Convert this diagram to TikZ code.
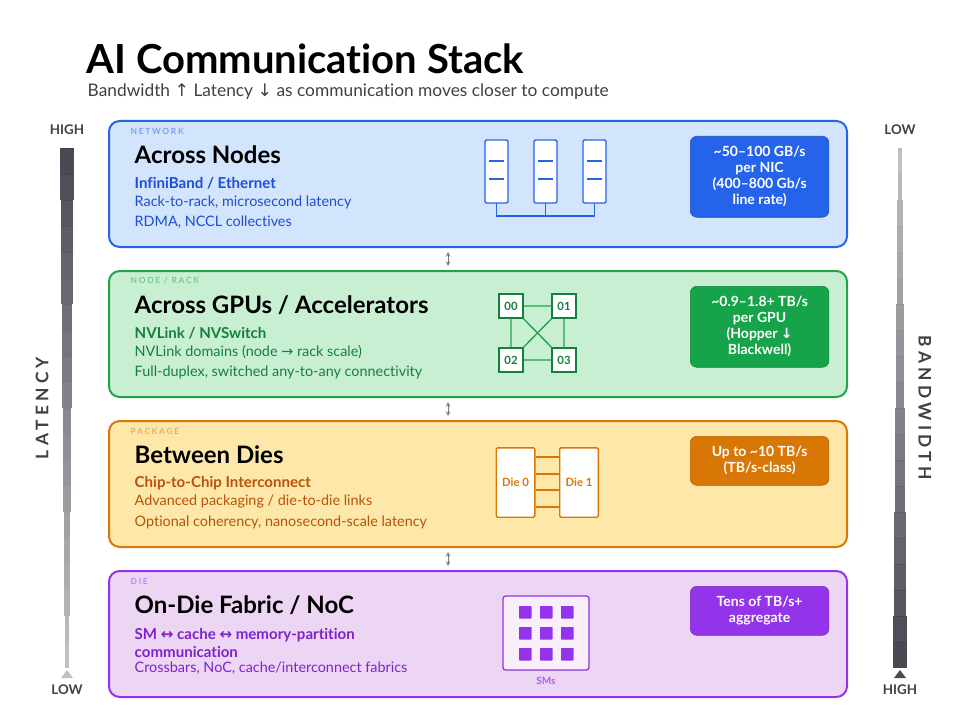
\documentclass[tikz,border=0pt]{standalone}
\usepackage{fontspec}
\setmainfont{Lato}[Ligatures=NoCommon]
\newfontfamily\symfont{DejaVu Sans}
\usetikzlibrary{positioning}
\definecolor{netB}{HTML}{2563EB}\definecolor{netF}{HTML}{D3E4FD}\definecolor{netT}{HTML}{1D4ED8}
\definecolor{gpuB}{HTML}{22A34A}\definecolor{gpuF}{HTML}{C8EFD2}\definecolor{gpuT}{HTML}{15803D}\definecolor{gpuD}{HTML}{16A34A}
\definecolor{pkgB}{HTML}{D97706}\definecolor{pkgF}{HTML}{FDE8A9}\definecolor{pkgT}{HTML}{B9520C}
\definecolor{dieB}{HTML}{9333EA}\definecolor{dieF}{HTML}{EDD6F4}\definecolor{dieT}{HTML}{7E22CE}
\definecolor{ink}{HTML}{3F3F46}
\definecolor{barD}{HTML}{4A4A54}
\newcommand{\sy}[1]{{\symfont #1}}
\tikzset{
  layer/.style={draw=#1B, fill=#1F, line width=1.5pt, rounded corners=8pt, minimum width=553.5pt, minimum height=94.5pt, anchor=north west},
  tag/.style={font=\fontsize{6.3}{7}\selectfont\bfseries, anchor=west},
  head/.style={font=\fontsize{18}{20}\selectfont\bfseries, anchor=west},
  sub/.style={font=\fontsize{11.3}{13}\selectfont\bfseries, anchor=west},
  line/.style={font=\fontsize{10.8}{12}\selectfont, anchor=west},
  badge/.style={fill=#1, draw=#1!80!black, rounded corners=5pt, text=white, font=\fontsize{10.5}{12}\selectfont\bfseries, align=center, minimum width=104pt, anchor=north west},
  chip/.style={draw=gpuT, fill=white, line width=1pt, minimum size=18pt, inner sep=0pt, font=\fontsize{8.5}{9}\selectfont\bfseries, text=gpuT},
  link/.style={<->, >=stealth, ink!70, line width=0.6pt},
  bartext/.style={font=\fontsize{10}{12}\selectfont\bfseries, text=ink}
}
\begin{document}
\begin{tikzpicture}[x=0.75pt, y=-0.75pt]
\useasboundingbox (0,0) rectangle (966,720);
% title
\node[anchor=west, font=\fontsize{30}{34}\selectfont\bfseries] (title) at (82,59) {AI Communication Stack};
\node[anchor=west, font=\fontsize{13}{15}\selectfont, text=ink] (subtitle) at (83,92) {Bandwidth \sy{↑} Latency \sy{↓} as communication moves closer to compute};

% layers
\node[layer=net] (net) at (108,120) {};
\node[layer=gpu] (gpu) at (108,270) {};
\node[layer=pkg] (pkg) at (108,420) {};
\node[layer=die] (die) at (108,570) {};
\foreach \a/\b in {net/gpu, gpu/pkg, pkg/die}
  \draw[link] ([xshift=-22.5pt,yshift=-3pt]\a.south) -- ([xshift=-22.5pt,yshift=3pt]\b.north);

% text of the layers
\foreach \l/\y/\t/\h/\s/\p/\q in {
  net/0/NETWORK/Across Nodes/{InfiniBand / Ethernet}/{Rack-to-rack, microsecond latency}/{RDMA, NCCL collectives},
  gpu/150/{NODE / RACK}/{Across GPUs / Accelerators}/{NVLink / NVSwitch}/{NVLink domains (node \sy{→} rack scale)}/{Full-duplex, switched any-to-any connectivity},
  pkg/300/PACKAGE/Between Dies/Chip-to-Chip Interconnect/{Advanced packaging / die-to-die links}/{Optional coherency, nanosecond-scale latency}}{
  \node[tag, text=\l B!60] at (126,131+\y) {\addfontfeature{LetterSpace=20}\t};
  \node[head] at (130,155+\y) {\h};
  \node[sub, text=\l T] at (130,183+\y) {\s};
  \node[line, text=\l T] at (130,202+\y) {\p};
  \node[line, text=\l T] at (130,222+\y) {\q};
}
\node[tag, text=dieB!60] at (126,581) {\addfontfeature{LetterSpace=20}DIE};
\node[head] at (130,605) {On-Die Fabric / NoC};
\node[sub, text=dieT, align=left, anchor=north west] at (130,624) {SM \sy{↔} cache \sy{↔} memory-partition\\communication};
\node[line, text=dieT] at (130,668) {Crossbars, NoC, cache/interconnect fabrics};

% badges
\node[badge=netB, minimum height=60.75pt] (bnet) at (690,136) {\textasciitilde 50--100 GB/s\\per NIC\\(400--800 Gb/s\\line rate)};
\node[badge=gpuD, minimum height=60.75pt] (bgpu) at (690,286) {\textasciitilde 0.9--1.8+ TB/s\\per GPU\\(Hopper \sy{↓}\\Blackwell)};
\node[badge=pkgB, minimum height=36.75pt] (bpkg) at (690,436) {Up to \textasciitilde 10 TB/s\\(TB/s-class)};
\node[badge=dieB, minimum height=36.75pt] (bdie) at (690,586) {Tens of TB/s+\\aggregate};

% servers
\foreach \x [count=\i] in {485,534,583}{
  \draw[netB, line width=1pt, fill=white, rounded corners=1pt] (\x,140) rectangle ++(23,63);
  \draw[netB, line width=1pt] (\x+4,161) -- ++(15,0) (\x+4,179) -- ++(15,0);
  \coordinate (srv\i) at (\x+11.5,203);
}
\draw[netB, line width=1pt] (srv1) -- ++(0,13) -| (srv3) (srv2) -- ++(0,13);

% gpu mesh
\node[chip] (g00) at (511,306) {00};
\node[chip] (g01) at (564,306) {01};
\node[chip] (g02) at (511,360) {02};
\node[chip] (g03) at (564,360) {03};
\draw[gpuB, line width=1pt] (g00) -- (g01) (g02) -- (g03) (g00) -- (g02) (g01) -- (g03) (g00) -- (g03) (g01) -- (g02);

% dies
\node[draw=pkgB, fill=white, line width=1pt, rounded corners=1pt, minimum width=29pt, minimum height=52pt, font=\fontsize{8.5}{9}\selectfont\bfseries, text=pkgB] (d0) at (515.5,482.5) {Die 0};
\node[draw=pkgB, fill=white, line width=1pt, rounded corners=1pt, minimum width=29pt, minimum height=52pt, font=\fontsize{8.5}{9}\selectfont\bfseries, text=pkgB] (d1) at (579,482.5) {Die 1};
\foreach \y in {457,474,490,507}
  \draw[pkgB, line width=1pt] (d0.east |- 0,\y) -- (d1.west |- 0,\y);

% SMs
\node[draw=dieB, fill=dieF!40!white, line width=1pt, rounded corners=2pt, minimum width=64.5pt, minimum height=55.5pt] (sm) at (546,633) {};
\foreach \i in {0,1,2} \foreach \j in {0,1,2}
  \fill[dieB, rounded corners=0.5pt] (519+21*\i,606+21*\j) rectangle ++(12.5,12.5);
\node[font=\fontsize{7.5}{8}\selectfont\bfseries, text=dieB!80] at (546,681) {SMs};

% latency and bandwidth bars
\foreach \i in {0,...,19}{
  \pgfmathsetmacro{\w}{14-\i*10/19}
  \pgfmathsetmacro{\c}{100-\i*65/19}
  \fill[barD!\c!white] (67-\w/2,148+\i*26) rectangle (67+\w/2,174+\i*26);
  \draw[black!15!barD!\c!white, line width=0.4pt] (67-\w/2,148+\i*26) -- (67+\w/2,148+\i*26);
  \pgfmathsetmacro{\v}{4+\i*10/19}
  \pgfmathsetmacro{\d}{35+\i*65/19}
  \fill[barD!\d!white] (900-\v/2,148+\i*26) rectangle (900+\v/2,174+\i*26);
  \draw[black!15!barD!\d!white, line width=0.4pt] (900-\v/2,148+\i*26) -- (900+\v/2,148+\i*26);
}
\fill[barD!35!white] (61,678) -- (73,678) -- (67,670) -- cycle;
\fill[barD] (894,678) -- (906,678) -- (900,670) -- cycle;
\node[bartext] at (67,130) {HIGH};
\node[bartext] at (67,690) {LOW};
\node[bartext] at (900,130) {LOW};
\node[bartext] at (900,690) {HIGH};
\node[font=\fontsize{13}{15}\selectfont\bfseries, text=ink, rotate=90] at (42,408) {\addfontfeature{LetterSpace=25}LATENCY};
\node[font=\fontsize{13}{15}\selectfont\bfseries, text=ink, rotate=-90] at (925,408) {\addfontfeature{LetterSpace=25}BANDWIDTH};
\end{tikzpicture}
\end{document}
